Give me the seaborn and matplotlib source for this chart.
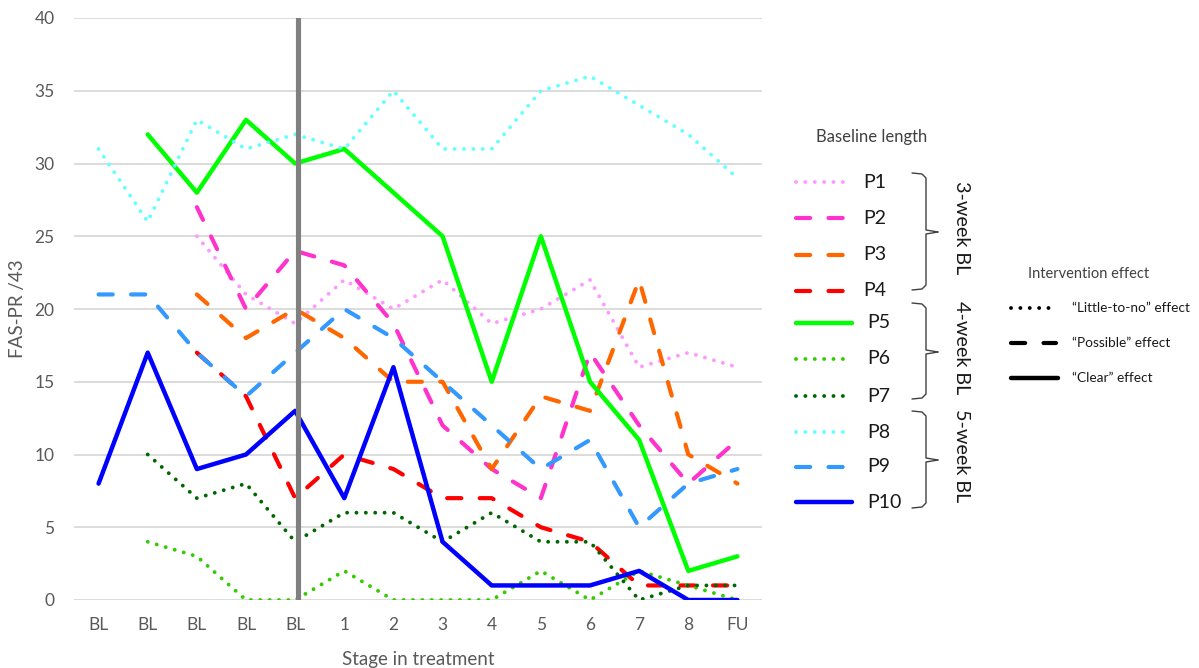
import numpy as np
import pandas as pd
import matplotlib
matplotlib.use("Agg")
import matplotlib.pyplot as plt
import seaborn as sns

# Stage labels along the x axis
stages = ["BL", "BL", "BL", "BL", "BL", "1", "2", "3", "4", "5", "6", "7", "8", "FU"]

nan = np.nan
# FAS-PR scores (out of 43) per participant and stage
p1 = [nan, nan, 25, 21, 19, 22, 20, 22, 19, 20, 22, 16, 17, 16]
p2 = [nan, nan, 27, 20, 24, 23, 19, 12, 9, 7, 17, 12, 8, 11]
p3 = [nan, nan, 21, 18, 20, 18, 15, 15, 9, 14, 13, 22, 10, 8]
p4 = [nan, nan, 17, 14, 7, 10, 9, 7, 7, 5, 4, 1, 1, 1]
p5 = [nan, 32, 28, 33, 30, 31, 28, 25, 15, 25, 15, 11, 2, 3]
p6 = [nan, 4, 3, 0, 0, 2, 0, 0, 0, 2, 0, 2, 1, 0]
p7 = [nan, 10, 7, 8, 4, 6, 6, 4, 6, 4, 4, 0, 1, 1]
p8 = [31, 26, 33, 31, 32, 31, 35, 31, 31, 35, 36, 34, 32, 29]
p9 = [21, 21, 17, 14, 17, 20, 18, 15, 12, 9, 11, 5, 8, 9]
p10 = [8, 17, 9, 10, 13, 7, 16, 4, 1, 1, 1, 2, 0, 0]

participants = ["P1", "P2", "P3", "P4", "P5", "P6", "P7", "P8", "P9", "P10"]
series = [p1, p2, p3, p4, p5, p6, p7, p8, p9, p10]
effects = ["dot", "dash", "dash", "dash", "solid", "dot", "dot", "dot", "dash", "solid"]
colors = ["#FF99FF", "#FF33CC", "#FF6600", "#FF0000", "#00FF00",
          "#33CC00", "#006600", "#66FFFF", "#3399FF", "#0000FF"]

groups = ["3-week BL", "4-week BL", "5-week BL"]
effect_labels = ["\u201cLittle-to-no\u201d effect", "\u201cPossible\u201d effect", "\u201cClear\u201d effect"]

sns.set_theme(style="white")
plt.rcParams["font.family"] = ["Lato", "DejaVu Sans"]

LINE_STYLES = {
    "dot": dict(linestyle=(0, (0.01, 2.4)), linewidth=2.8, dash_capstyle="round"),
    "dash": dict(linestyle=(0, (3.4, 4.4)), linewidth=3.0, dash_capstyle="round"),
    "solid": dict(linestyle="-", linewidth=3.2, solid_capstyle="round"),
}

fig = plt.figure(figsize=(11.99, 6.68), dpi=100)
ax = fig.add_axes([74 / 1199, 1 - 600 / 668, (762 - 74) / 1199, (600 - 18) / 668])

x = np.arange(len(stages))
frames = []
for name, vals in zip(participants, series):
    frames.append(pd.DataFrame({"pos": x, "score": vals, "participant": name}))
df = pd.concat(frames, ignore_index=True).dropna()

for name, eff, col in zip(participants, effects, colors):
    sub = df[df["participant"] == name]
    sns.lineplot(data=sub, x="pos", y="score", ax=ax, color=col,
                 legend=False, sort=False, **LINE_STYLES[eff])

# Phase change marker between baseline and treatment
ax.axvline(4.05, color="#808080", linewidth=3.7, zorder=10)

ax.set_xlim(-0.5, len(stages) - 0.5)
ax.set_ylim(0, 40)
ax.set_yticks(np.arange(0, 41, 5))
ax.set_xticks(x)
ax.set_xticklabels(stages)
ax.yaxis.grid(True, color="#D9D9D9", linewidth=1.3)
ax.xaxis.grid(False)
for s in ax.spines.values():
    s.set_visible(False)
ax.tick_params(axis="both", length=0, labelsize=12.5, colors="#595959")
ax.tick_params(axis="x", pad=12)
ax.tick_params(axis="y", pad=14)
ax.set_xlabel("Stage in treatment", fontsize=13.5, color="#595959", labelpad=13)
ax.set_ylabel("FAS-PR /43", fontsize=13.5, color="#595959", labelpad=6)
ax.set_axisbelow(True)

# Overlay in pixel coordinates for the legends
ov = fig.add_axes([0, 0, 1, 1])
ov.set_xlim(0, 1199)
ov.set_ylim(668, 0)
ov.axis("off")

ov.text(872, 137, "Baseline length", ha="center", va="center", fontsize=12, color="#404040")
ys = [182, 218, 255, 291, 323, 359, 396, 432, 467, 502]
for i, (name, eff, col, yy) in enumerate(zip(participants, effects, colors, ys)):
    x_end = 852 if eff == "solid" else 848
    ov.plot([796, x_end], [yy, yy], color=col, **LINE_STYLES[eff])
    ov.text(863 if i < 4 else 867, yy, name, ha="left", va="center", fontsize=14, color="#1a1a1a")

brackets = [(173, 232, 290), (303, 352, 399), (411, 460, 508)]
for (top, mid, bot), label in zip(brackets, groups):
    ov.plot([912, 922, 926, 926, 938], [top, top + 1, top + 5, mid - 2, mid],
            color="#404040", linewidth=1.0, solid_joinstyle="round")
    ov.plot([938, 926, 926, 922, 912], [mid, mid + 2, bot - 5, bot - 1, bot],
            color="#404040", linewidth=1.0, solid_joinstyle="round")
    ov.text(961, mid - 4, label, rotation=-90, ha="center", va="center",
            fontsize=14.2, color="#1a1a1a")

ov.text(1089, 274, "Intervention effect", ha="center", va="center", fontsize=10.5, color="#404040")
for yy, eff, lab in zip([308, 343, 378], ["dot", "dash", "solid"], effect_labels):
    st = dict(LINE_STYLES[eff])
    ov.plot([1011, 1056 if eff != "solid" else 1058], [yy, yy], color="black", **st)
    ov.text(1072, yy, lab, ha="left", va="center", fontsize=9.8, color="#1a1a1a")

fig.savefig("out.png", dpi=100)
